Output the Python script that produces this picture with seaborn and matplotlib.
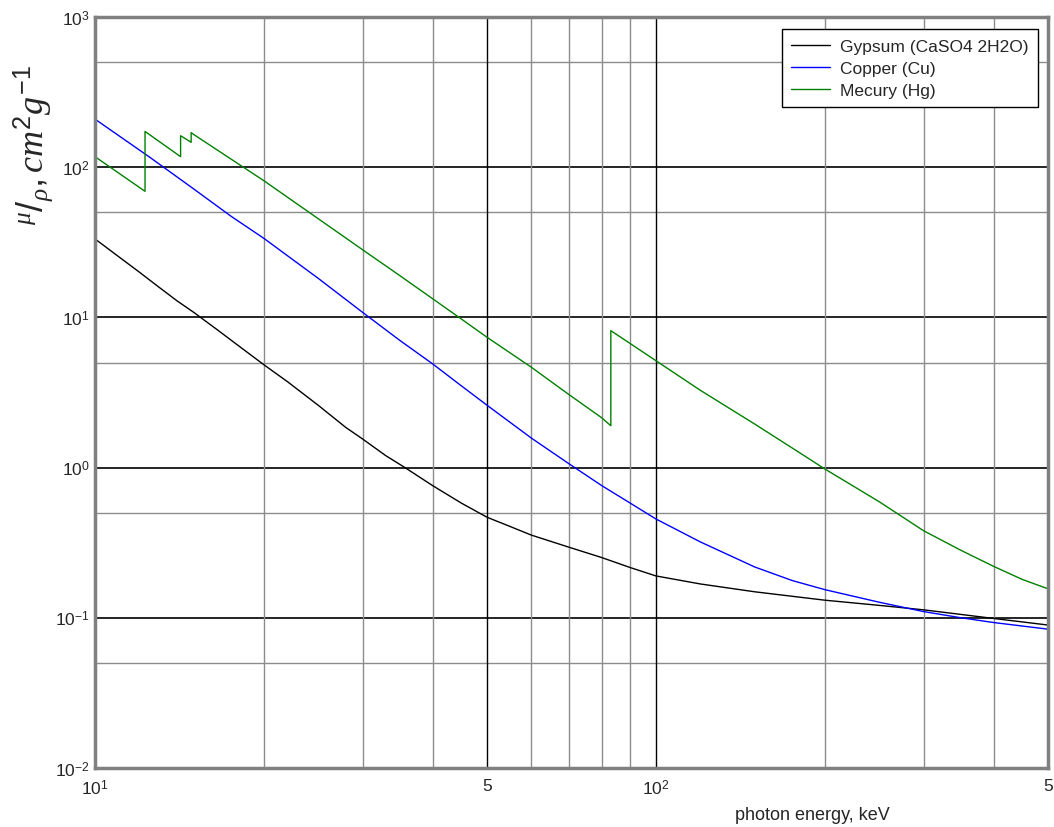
import matplotlib
matplotlib.use('Agg')
import matplotlib.pyplot as plt
import matplotlib.ticker as mticker
import seaborn as sns
import pandas as pd

# energias (keV) e coeficientes de atenuação mássica (cm2/g)
gesso_e = [10, 11, 12, 13, 14, 15, 16.5, 18, 20, 22, 25, 28, 30, 33, 35.7, 40, 45, 50, 55,
           60, 70, 80, 90, 100, 120, 150, 200, 250, 300, 400, 500]
gesso_mu = [33.3, 25.5, 20.0, 15.9, 12.9, 10.8, 8.3, 6.5, 4.84, 3.75, 2.6, 1.85, 1.55, 1.2,
            1.0, 0.758, 0.58, 0.467, 0.405, 0.355, 0.295, 0.252, 0.216, 0.19, 0.168, 0.149,
            0.131, 0.121, 0.113, 0.099, 0.0895]

cobre_e = [10, 12.5, 15, 17.5, 20, 25, 30, 35, 40, 45, 50, 60, 70, 80, 90, 100, 120, 150,
           175, 200, 250, 300, 350, 400, 500]
cobre_mu = [209, 117, 71.6, 47, 33.6, 18.2, 10.8, 7.0, 4.9, 3.5, 2.6, 1.57, 1.06, 0.76, 0.58,
            0.455, 0.32, 0.218, 0.177, 0.154, 0.127, 0.110, 0.100, 0.093, 0.084]

mercurio_e = [10, 12.28, 12.28, 14.21, 14.21, 14.84, 14.84, 15, 17.5, 20, 25, 30, 35, 40, 45,
              50, 60, 70, 80, 83.1, 83.1, 100, 120, 150, 175, 200, 250, 300, 350, 400, 450, 500]
mercurio_mu = [117.5, 69.1, 173, 117.5, 162, 146.5, 170, 165, 112.9, 81.3, 45.4, 28.2, 18.9,
               13.3, 9.75, 7.37, 4.65, 3.06, 2.15, 1.90, 8.16, 5.15, 3.27, 1.95, 1.35, 0.98,
               0.593, 0.38, 0.281, 0.22, 0.18, 0.156]

nomes = ['Gypsum (CaSO4 2H2O)', 'Copper (Cu)', 'Mecury (Hg)']
cores = ['black', 'blue', '#008000']

df = pd.concat([
    pd.DataFrame({'energia': gesso_e, 'mu': gesso_mu, 'material': nomes[0]}),
    pd.DataFrame({'energia': cobre_e, 'mu': cobre_mu, 'material': nomes[1]}),
    pd.DataFrame({'energia': mercurio_e, 'mu': mercurio_mu, 'material': nomes[2]}),
])

sns.set_style('white')
plt.rcParams['font.family'] = ['Liberation Sans', 'DejaVu Sans']
plt.rcParams['mathtext.fontset'] = 'custom'
plt.rcParams['mathtext.rm'] = 'Liberation Sans'
plt.rcParams['mathtext.it'] = 'Liberation Serif:italic'

fig = plt.figure(figsize=(10.54, 8.28), dpi=100)
ax = fig.add_axes([95 / 1054, 1 - 769 / 828, (1048 - 95) / 1054, (769 - 18) / 828])

ax.set_xscale('log')
ax.set_yscale('log')
ax.set_xlim(10, 500)
ax.set_ylim(0.01, 1000)

# grelha
for y in [0.1, 1, 10, 100]:
    ax.axhline(y, color='black', lw=1.2, zorder=1)
for y in [0.05, 0.5, 5, 50, 500]:
    ax.axhline(y, color='#8c8c8c', lw=1.0, zorder=1)
for x in [50, 100]:
    ax.axvline(x, color='black', lw=1.0, zorder=1)
for x in [20, 30, 40, 60, 70, 80, 90, 200, 300, 400]:
    ax.axvline(x, color='#8c8c8c', lw=1.0, zorder=1)

sns.lineplot(data=df, x='energia', y='mu', hue='material', palette=dict(zip(nomes, cores)),
             estimator=None, sort=False, lw=1.0, ax=ax, legend=False, zorder=3)

ax.xaxis.set_major_locator(mticker.FixedLocator([10, 50, 100, 500]))
ax.xaxis.set_major_formatter(mticker.FixedFormatter([r'$10^{1}$', '5', r'$10^{2}$', '5']))
ax.xaxis.set_minor_locator(mticker.NullLocator())
ax.yaxis.set_major_locator(mticker.FixedLocator([0.01, 0.1, 1, 10, 100, 1000]))
ax.yaxis.set_major_formatter(mticker.FixedFormatter(
    [r'$10^{-2}$', r'$10^{-1}$', r'$10^{0}$', r'$10^{1}$', r'$10^{2}$', r'$10^{3}$']))
ax.yaxis.set_minor_locator(mticker.NullLocator())
ax.tick_params(axis='both', direction='in', length=4, color='#808080', labelsize=12.5)
ax.tick_params(axis='y', pad=4)
ax.tick_params(axis='x', pad=7)

for s in ax.spines.values():
    s.set_color('#808080')
    s.set_linewidth(2.5)
    s.set_zorder(5)

ax.set_xlabel('')
ax.set_ylabel('')
fig.text(812 / 1054, 1 - 816 / 828, 'photon energy, keV', ha='center', va='center', fontsize=13)
fig.text(33 / 1054, 1 - 145 / 828, r'$^{\mu}/_{\rho}, cm^{2}g^{-1}$', rotation=90,
         ha='center', va='center', fontsize=26)

handles = [plt.Line2D([], [], color=c, lw=1.0) for c in cores]
leg = ax.legend(handles, nomes, loc='upper right', bbox_to_anchor=(1038 / 1054, 1 - 30 / 828),
                bbox_transform=fig.transFigure, fontsize=12.5, frameon=True, fancybox=False,
                framealpha=1, edgecolor='black', borderaxespad=0, handlelength=2.2,
                handletextpad=0.6, labelspacing=0.4, borderpad=0.55)
leg.get_frame().set_linewidth(1.0)

fig.savefig('out.png', dpi=100)
